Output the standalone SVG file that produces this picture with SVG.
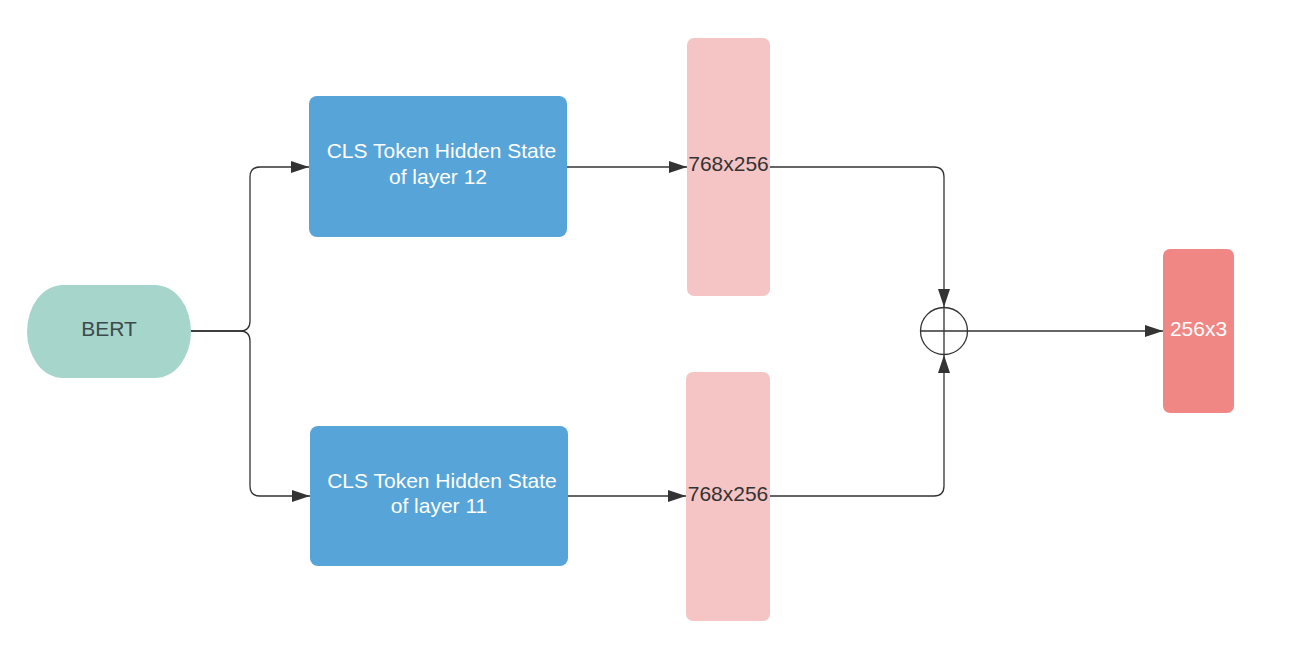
<svg xmlns="http://www.w3.org/2000/svg" width="1296" height="668" viewBox="0 0 1296 668">
<style>
text{font-family:"Liberation Sans",Arial,sans-serif;font-size:21px;text-anchor:middle;dominant-baseline:central}
.blue{fill:#57a5d8}
.pink{fill:#f5c4c4}
.w{fill:#ffffff}
.d{fill:#333333}
.edge{fill:none;stroke:#333333;stroke-width:1.3}
</style>
<defs>
<marker id="arr" viewBox="0 0 18 12" refX="18" refY="6" markerWidth="18" markerHeight="12" markerUnits="userSpaceOnUse" orient="auto">
<path d="M0 0 L18 6 L0 12 Z" fill="#333333"/>
</marker>
</defs>
<rect width="1296" height="668" fill="#ffffff"/>
<g id="connectors">
<path class="edge" d="M191 331 L240 331 Q250 331 250 321 L250 177 Q250 167 260 167 L309 167" marker-end="url(#arr)"/>
<path class="edge" d="M191 331 L240 331 Q250 331 250 341 L250 486 Q250 496 260 496 L310 496" marker-end="url(#arr)"/>
<path class="edge" d="M567 167 L687 167" marker-end="url(#arr)"/>
<path class="edge" d="M568 496 L686 496" marker-end="url(#arr)"/>
<path class="edge" d="M770 167 L934 167 Q944 167 944 177 L944 307" marker-end="url(#arr)"/>
<path class="edge" d="M770 496 L934 496 Q944 496 944 486 L944 355" marker-end="url(#arr)"/>
<path class="edge" d="M968 331 L1163 331" marker-end="url(#arr)"/>
</g>
<g id="bert">
<path d="M63 285 L155 285 A36 46.5 0 0 1 155 378 L63 378 A36 46.5 0 0 1 63 285 Z" fill="#a6d5cb"/>
<text x="109" y="328" fill="#3d4a4c">BERT</text>
</g>
<g id="cls12">
<rect class="blue" x="309" y="96" width="258" height="141" rx="8"/>
<text class="w" x="441.5" y="150">CLS Token Hidden State</text>
<text class="w" x="438" y="176">of layer 12</text>
</g>
<g id="cls11">
<rect class="blue" x="310" y="426" width="258" height="140" rx="8"/>
<text class="w" x="442" y="480">CLS Token Hidden State</text>
<text class="w" x="439" y="505">of layer 11</text>
</g>
<g id="w12">
<rect class="pink" x="687" y="38" width="83" height="258" rx="7"/>
<text class="d" x="728.5" y="163">768x256</text>
</g>
<g id="w11">
<rect class="pink" x="686" y="372" width="84" height="249" rx="7"/>
<text class="d" x="728" y="493">768x256</text>
</g>
<g id="sum">
<circle cx="944" cy="331" r="23.5" fill="#ffffff" stroke="#333333" stroke-width="1.3"/>
<path d="M920.5 331 L967.5 331 M944 307.5 L944 354.5" stroke="#333333" stroke-width="1.3"/>
</g>
<g id="out">
<rect x="1163" y="249" width="71" height="164" rx="7" fill="#f08784"/>
<text class="w" x="1198.5" y="328">256x3</text>
</g>
</svg>
